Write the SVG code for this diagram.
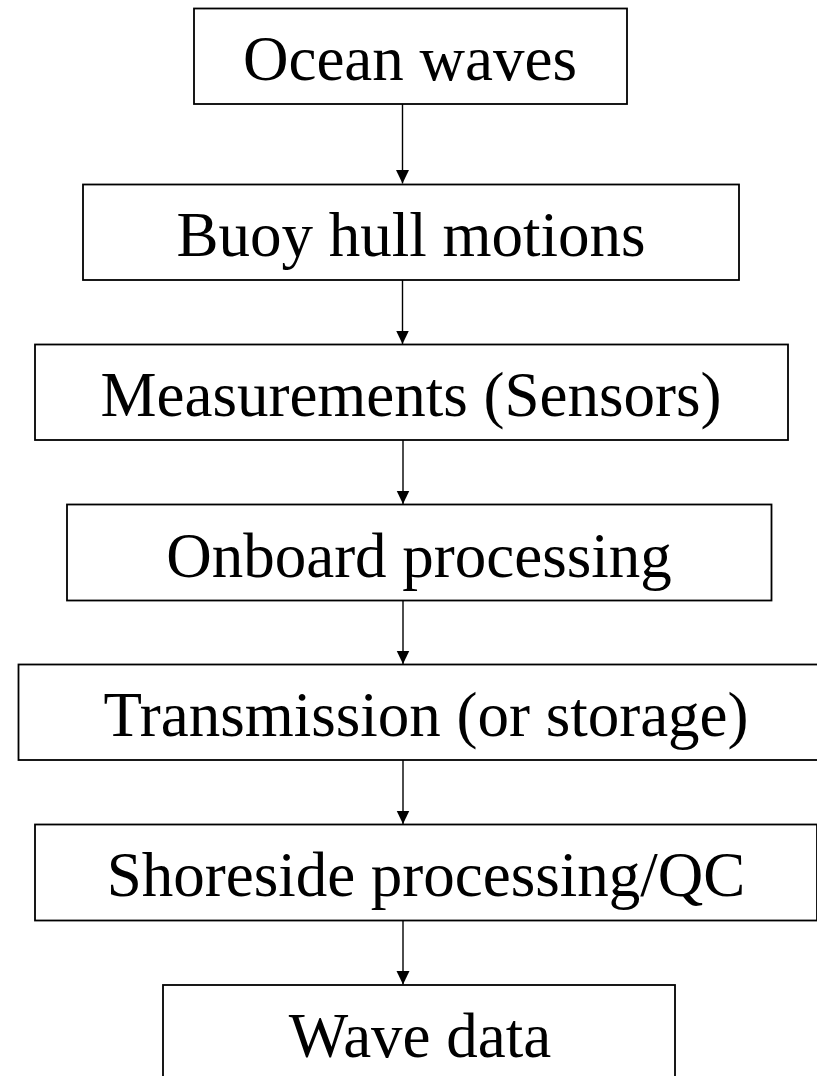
<svg xmlns="http://www.w3.org/2000/svg" width="817" height="1076" viewBox="0 0 817 1076">
  <style>
    .box { fill: #ffffff; stroke: #000000; stroke-width: 1.8; }
    .label { font-family: "Liberation Serif", "Times New Roman", serif; font-size: 63px; fill: #000000; text-anchor: middle; }
    .link { stroke: #000000; stroke-width: 1.4; fill: none; marker-end: url(#arrow); }
  </style>
  <defs>
    <marker id="arrow" markerUnits="userSpaceOnUse" markerWidth="14" markerHeight="14" viewBox="0 0 14 14" refX="13.5" refY="7" orient="auto">
      <path d="M0,0.5 L13.5,7 L0,13.5 Z" fill="#000000"/>
    </marker>
  </defs>
  <rect x="0" y="0" width="817" height="1076" fill="#ffffff"/>

  <g id="connectors">
    <line class="link" x1="402.5" y1="104" x2="402.5" y2="183.5"/>
    <line class="link" x1="402.5" y1="280" x2="402.5" y2="344"/>
    <line class="link" x1="403" y1="440" x2="403" y2="504"/>
    <line class="link" x1="403" y1="601" x2="403" y2="664"/>
    <line class="link" x1="403" y1="760" x2="403" y2="824"/>
    <line class="link" x1="403" y1="921" x2="403" y2="984.5"/>
  </g>

  <g id="ocean-waves">
    <rect class="box" x="194" y="8.5" width="433" height="95.5"/>
    <text class="label" x="410" y="80">Ocean waves</text>
  </g>

  <g id="buoy-hull-motions">
    <rect class="box" x="83" y="184.5" width="656" height="95.5"/>
    <text class="label" x="411" y="256">Buoy hull motions</text>
  </g>

  <g id="measurements">
    <rect class="box" x="35" y="344.5" width="753" height="95.5"/>
    <text class="label" x="411" y="416">Measurements (Sensors)</text>
  </g>

  <g id="onboard-processing">
    <rect class="box" x="67" y="504.5" width="704.5" height="96"/>
    <text class="label" x="419" y="577">Onboard processing</text>
  </g>

  <g id="transmission">
    <rect class="box" x="18.5" y="664.5" width="815" height="95.5"/>
    <text class="label" x="426" y="736">Transmission (or storage)</text>
  </g>

  <g id="shoreside-processing">
    <rect class="box" x="35" y="824.5" width="782" height="96"/>
    <text class="label" x="426" y="896">Shoreside processing/QC</text>
  </g>

  <g id="wave-data">
    <rect class="box" x="163" y="985" width="512" height="120"/>
    <text class="label" x="420" y="1057">Wave data</text>
  </g>
</svg>
